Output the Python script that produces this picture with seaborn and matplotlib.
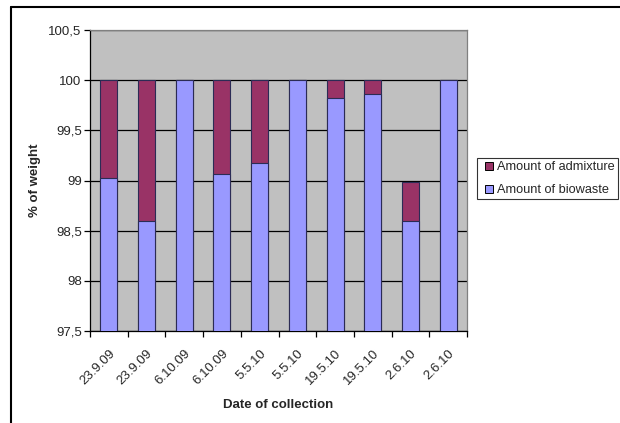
import numpy as np
import pandas as pd
import matplotlib
matplotlib.use("Agg")
import matplotlib.pyplot as plt
import matplotlib.transforms as mtransforms
import seaborn as sns
from matplotlib.lines import Line2D
from matplotlib.ticker import FuncFormatter, FixedLocator

# Data
dates = ["23.9.09", "23.9.09", "6.10.09", "6.10.09", "5.5.10",
         "5.5.10", "19.5.10", "19.5.10", "2.6.10", "2.6.10"]
biowaste = [99.02, 98.60, 100.0, 99.06, 99.17, 100.0, 99.82, 99.86, 98.60, 100.0]
admixture = [0.98, 1.40, 0.0, 0.94, 0.83, 0.0, 0.18, 0.14, 0.39, 0.0]

df = pd.DataFrame({
    "sample": [str(i) for i in range(len(dates))],
    "date": dates,
    "biowaste": biowaste,
    "admixture": admixture,
})
df["total"] = df["biowaste"] + df["admixture"]

sns.set_style("white")
plt.rcParams["font.family"] = ["Liberation Sans", "DejaVu Sans"]

col_bio = "#9999FF"
col_adm = "#993366"
edge = "#2B2B55"

fig = plt.figure(figsize=(6.2, 4.23), dpi=100)
W, H = 620, 423
ax = fig.add_axes([90 / W, 1 - 331 / H, (467 - 90) / W, (331 - 30) / H])
ax.set_facecolor("#C0C0C0")

# stacked: total bar (admixture colour) under the biowaste bar
sns.barplot(data=df, x="sample", y="total", color=col_adm, width=0.45,
            edgecolor=edge, linewidth=0.8, saturation=1, ax=ax, zorder=3)
sns.barplot(data=df, x="sample", y="biowaste", color=col_bio, width=0.45,
            edgecolor=edge, linewidth=0.8, saturation=1, ax=ax, zorder=3)

ax.set_ylim(97.5, 100.5)
ax.set_xlim(-0.5, len(dates) - 0.5)
ax.set_yticks(np.arange(97.5, 100.51, 0.5))
ax.yaxis.set_major_formatter(FuncFormatter(lambda v, p: f"{v:g}".replace(".", ",")))
ax.yaxis.grid(True, color="black", linewidth=0.9)
ax.set_axisbelow(True)
for g in ax.get_ygridlines():
    g.set_zorder(1)

ax.set_xticks(range(len(dates)))
ax.set_xticklabels(dates, rotation=45, ha="right", rotation_mode="anchor", fontsize=9.5)
shift = mtransforms.ScaledTranslation(-10 / 100, 0, fig.dpi_scale_trans)
for lab in ax.get_xticklabels():
    lab.set_transform(lab.get_transform() + shift)
ax.xaxis.set_minor_locator(FixedLocator(np.arange(-0.5, len(dates), 1)))
ax.tick_params(axis="x", which="major", length=0, pad=12)
ax.tick_params(axis="x", which="minor", length=4, width=0.9, color="black", direction="out", bottom=True)
ax.tick_params(axis="y", length=4, width=0.9, color="black", direction="out", left=True, labelsize=9.5, pad=2)

for side, sp in ax.spines.items():
    sp.set_color("#808080")
    sp.set_linewidth(0.9)
ax.spines["left"].set_color("black")
ax.spines["bottom"].set_color("black")

ax.set_xlabel("Date of collection", fontsize=9.5, fontweight="bold", labelpad=8.5)
ax.set_ylabel("% of weight", fontsize=9.5, fontweight="bold", labelpad=5)

handles = [Line2D([], [], linestyle="none", marker="s", markersize=6,
                  markerfacecolor=col_adm, markeredgecolor="black", markeredgewidth=0.7),
           Line2D([], [], linestyle="none", marker="s", markersize=6,
                  markerfacecolor=col_bio, markeredgecolor="black", markeredgewidth=0.7)]
leg = fig.legend(handles, ["Amount of admixture", "Amount of biowaste"],
                 loc="upper left", bbox_to_anchor=(477 / W, 1 - 158 / H),
                 fontsize=9.2, frameon=True, fancybox=False, edgecolor="black",
                 handlelength=1.3, handletextpad=0.05,
                 borderpad=0.25, labelspacing=0.85, borderaxespad=0)
leg.get_frame().set_linewidth(0.8)

# outer chart border (runs off the right and bottom edge)
fig.add_artist(Line2D([11 / W, 11 / W], [1 - 7 / H, 0], color="black", linewidth=1.5, transform=fig.transFigure))
fig.add_artist(Line2D([11 / W, 1], [1 - 7 / H, 1 - 7 / H], color="black", linewidth=1.5, transform=fig.transFigure))

fig.savefig("out.png", dpi=100, facecolor="white")
